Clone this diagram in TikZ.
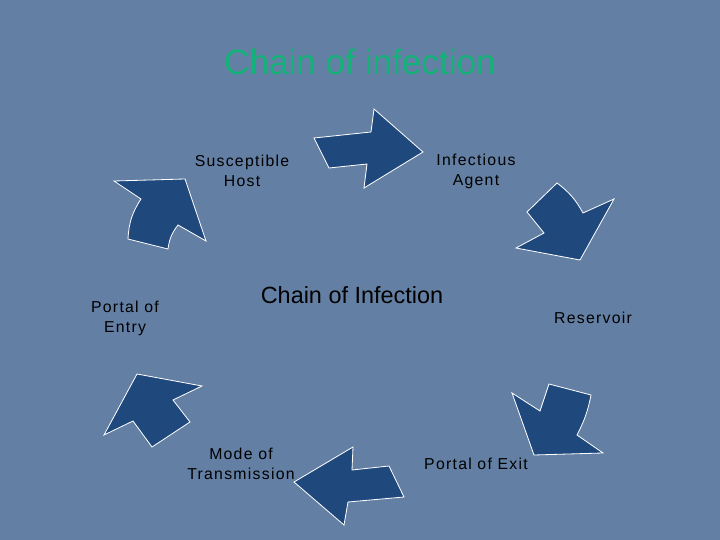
\documentclass[tikz,border=0pt]{standalone}
\usepackage{fontspec}
\setmainfont{Liberation Sans}
\newfontfamily\lblfont[LetterSpace=8]{Liberation Sans}
\definecolor{bgc}{RGB}{99,127,163}
\definecolor{arrc}{RGB}{31,72,125}
\definecolor{ttlc}{RGB}{20,178,120}
\tikzset{
  arr/.style={fill=arrc, draw=white, line width=0.7pt, line join=miter},
  lbl/.style={font=\lblfont\fontsize{13.5pt}{17pt}\selectfont, align=center, text=black, inner sep=0pt},
}
\begin{document}
\begin{tikzpicture}[x=0.03cm, y=-0.03cm]
\fill[bgc] (0,0) rectangle (720,540);
\useasboundingbox (0,0) rectangle (720,540);
% title
\node[font=\fontsize{30pt}{34pt}\selectfont, text=ttlc, inner sep=0pt] (title) at (360,62) {Chain of infection};
\node[font=\fontsize{20pt}{24pt}\selectfont, text=black, inner sep=0pt] (center) at (352,295) {Chain of Infection};
% labels
\node[lbl] (host) at (242,171) {Susceptible\\Host};
\node[lbl] (agent) at (476,171) {Infectious\\Agent};
\node[lbl] (entry) at (125,318) {Portal of\\Entry};
\node[lbl] (res) at (593,318) {Reservoir};
\node[lbl] (exit) at (476,464) {Portal of Exit};
\node[lbl] (mode) at (241,464) {Mode of\\Transmission};
% arrows
\draw[arr] (314,138) -- (371,132) -- (374,109) -- (423,152) -- (364,188) -- (367,164) -- (329,168) -- cycle;
\draw[arr] (557,183) to[bend left=12] (583,213) -- (614,199) -- (580,260) -- (516,248) -- (544,233) -- (527,212) -- cycle;
\draw[arr] (512,393) -- (540,411) -- (549,384) -- (591,395) to[bend left=8] (577,435) -- (603,453) -- (534,455) -- cycle;
\draw[arr] (294,482) -- (353,447) -- (352,470) -- (389,466) -- (404,497) -- (348,502) -- (344,525) -- cycle;
\draw[arr] (137,374) -- (202,386) -- (173,400) -- (190,422) -- (152,447) -- (133,421) -- (104,435) -- cycle;
\draw[arr] (114,181) -- (185,179) -- (206,241) -- (178,225) to[bend right=15] (168,249) -- (128,239) to[bend left=15] (141,199) -- cycle;
\end{tikzpicture}
\end{document}
